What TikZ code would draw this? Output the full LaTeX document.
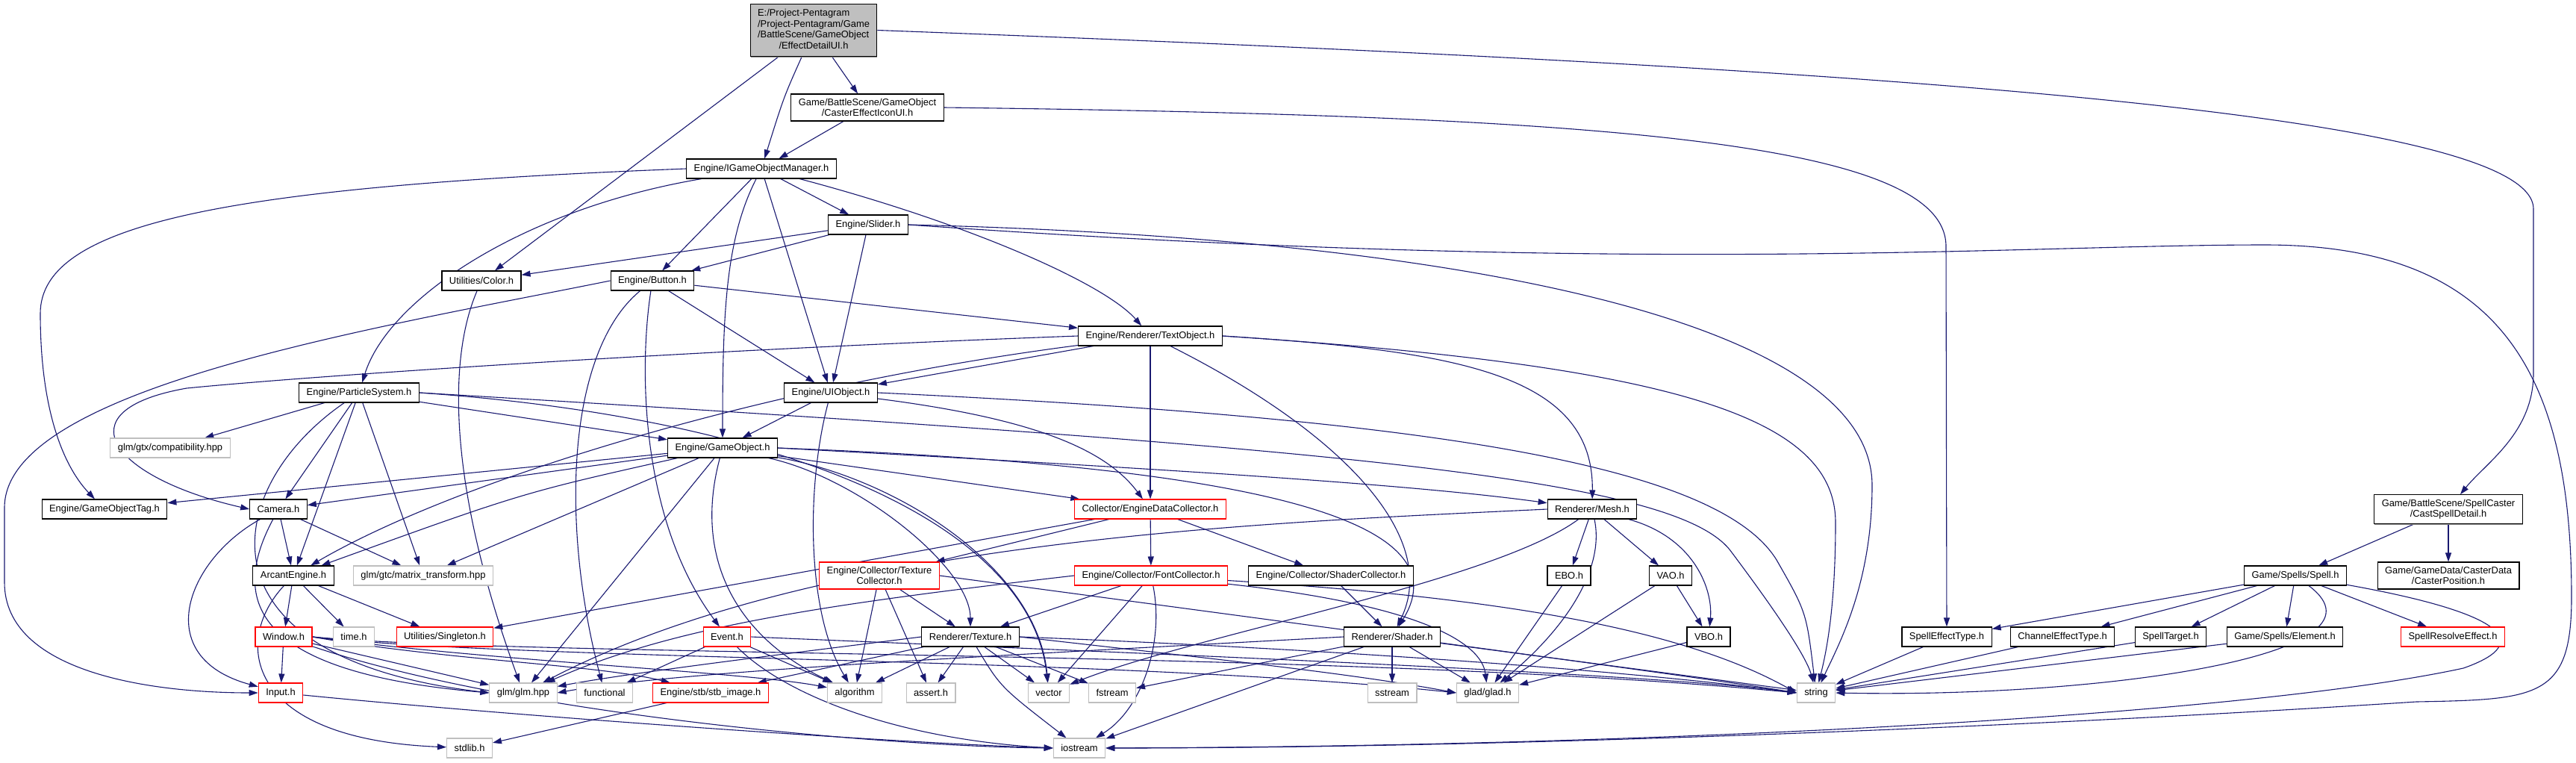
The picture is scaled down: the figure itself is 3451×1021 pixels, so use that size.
\documentclass[tikz,border=0pt]{standalone}
\usepackage{fontspec}
\setmainfont{Liberation Sans}
\usetikzlibrary{arrows.meta, shadows, backgrounds}
\definecolor{edgeblue}{HTML}{191970}
\definecolor{rootgray}{HTML}{BFBFBF}
\tikzstyle{hbox} = [rectangle, fill=white, line width=1.1pt, inner xsep=10pt, inner ysep=6pt, minimum height=26pt, align=center, font=\fontsize{12.9}{14.5}\selectfont]
\tikzstyle{filebox} = [hbox, draw=black, drop shadow={shadow xshift=0.5pt, shadow yshift=-1.4pt, fill=black!45, opacity=1}]
\tikzstyle{rootbox} = [filebox, fill=rootgray]
\tikzstyle{sysbox} = [hbox, draw=rootgray, drop shadow={shadow xshift=0.5pt, shadow yshift=-1.4pt, fill=rootgray!70, opacity=1}]
\tikzstyle{redbox} = [hbox, draw=red, drop shadow={shadow xshift=0.5pt, shadow yshift=-1.4pt, fill=red!50, opacity=1}]
\tikzstyle{incl} = [draw=edgeblue, line width=1.1pt, -{Triangle[length=12pt,width=8pt]}]

\begin{document}
\begin{tikzpicture}[x=1pt, y=-1pt]
\useasboundingbox (0,0) rectangle (3451,1021);

% Nodes
\node (top) [rootbox] at (1090,40.5) {\begin{tabular}{@{}l@{}}E:/Project-Pentagram\\/Project-Pentagram/Game\\/BattleScene/GameObject\\\multicolumn{1}{@{}c@{}}{/EffectDetailUI.h}\end{tabular}};
\node (casterui) [filebox] at (1162,144) {Game/BattleScene/GameObject\\/CasterEffectIconUI.h};
\node (igom) [filebox] at (1020,226) {Engine/IGameObjectManager.h};
\node (slider) [filebox] at (1163,301) {Engine/Slider.h};
\node (color) [filebox] at (645,376) {Utilities/Color.h};
\node (button) [filebox] at (874,376) {Engine/Button.h};
\node (textobj) [filebox] at (1541,450) {Engine/Renderer/TextObject.h};
\node (particle) [filebox] at (481,526) {Engine/ParticleSystem.h};
\node (uiobj) [filebox] at (1113,526) {Engine/UIObject.h};
\node (compat) [sysbox] at (228,600) {glm/gtx/compatibility.hpp};
\node (gameobj) [filebox] at (968,600) {Engine/GameObject.h};
\node (gotag) [filebox] at (140,682) {Engine/GameObjectTag.h};
\node (camera) [filebox] at (373,682) {Camera.h};
\node (edc) [redbox] at (1541,682) {Collector/EngineDataCollector.h};
\node (mesh) [filebox] at (2133,682) {Renderer/Mesh.h};
\node (castspell) [filebox] at (3280,682) {Game/BattleScene/SpellCaster\\/CastSpellDetail.h};
\node (arcant) [filebox] at (393,771) {ArcantEngine.h};
\node (mattrans) [sysbox] at (567,771) {glm/gtc/matrix\_transform.hpp};
\node (texcoll) [redbox] at (1178,771) {Engine/Collector/Texture\\Collector.h};
\node (fontcoll) [redbox] at (1542,771) {Engine/Collector/FontCollector.h};
\node (shadercoll) [filebox] at (1783,771) {Engine/Collector/ShaderCollector.h};
\node (ebo) [filebox] at (2102,771) {EBO.h};
\node (vao) [filebox] at (2238,771) {VAO.h};
\node (spell) [filebox] at (3075,771) {Game/Spells/Spell.h};
\node (casterpos) [filebox] at (3280,771) {Game/GameData/CasterData\\/CasterPosition.h};
\node (window) [redbox] at (380,853) {Window.h};
\node (timeh) [sysbox] at (474,853) {time.h};
\node (singleton) [redbox] at (596,853) {Utilities/Singleton.h};
\node (event) [redbox] at (974,853) {Event.h};
\node (texture) [filebox] at (1300,853) {Renderer/Texture.h};
\node (shader) [filebox] at (1865,853) {Renderer/Shader.h};
\node (vbo) [filebox] at (2289,853) {VBO.h};
\node (spelleff) [filebox] at (2608,853) {SpellEffectType.h};
\node (channel) [filebox] at (2763,853) {ChannelEffectType.h};
\node (target) [filebox] at (2908,853) {SpellTarget.h};
\node (element) [filebox] at (3061,853) {Game/Spells/Element.h};
\node (resolve) [redbox] at (3286,853) {SpellResolveEffect.h};
\node (input) [redbox] at (376,928) {Input.h};
\node (glm) [sysbox] at (701,928) {glm/glm.hpp};
\node (functional) [sysbox] at (810,928) {functional};
\node (stbimage) [redbox] at (952,928) {Engine/stb/stb\_image.h};
\node (algorithm) [sysbox] at (1145,928) {algorithm};
\node (assert) [sysbox] at (1247,928) {assert.h};
\node (vector) [sysbox] at (1405,928) {vector};
\node (fstream) [sysbox] at (1490,928) {fstream};
\node (sstream) [sysbox] at (1865,928) {sstream};
\node (glad) [sysbox] at (1993,928) {glad/glad.h};
\node (string) [sysbox] at (2433,928) {string};
\node (stdlib) [sysbox] at (629,1002) {stdlib.h};
\node (iostream) [sysbox] at (1446,1002) {iostream};

% Arrows
\begin{pgfonlayer}{background}
\draw [incl] (top) .. controls (1050,130) .. (igom);
\draw [incl] (top) -- (casterui);
\draw [incl] (top) -- (color);
\draw [incl] (top.east) .. controls (2500,90) and (3394,150) .. (3394,280) -- (3394,500) .. controls (3394,580) and (3330,620) .. (castspell);
\draw [incl] (casterui) -- (igom);
\draw [incl] (casterui.east) .. controls (2150,155) and (2607,190) .. (2607,330) -- (spelleff);
\draw [incl] (igom.west) .. controls (300,250) and (54,300) .. (54,420) .. controls (54,560) and (90,630) .. (gotag);
\draw [incl] (igom) .. controls (700,280) and (520,400) .. (particle);
\draw [incl] (igom) -- (button);
\draw [incl] (igom) .. controls (972,320) and (968,420) .. (gameobj);
\draw [incl] (igom) -- (uiobj);
\draw [incl] (igom) -- (slider);
\draw [incl] (igom) .. controls (1300,300) and (1480,380) .. (textobj);
\draw [incl] (slider) -- (color);
\draw [incl] (slider) -- (button);
\draw [incl] (slider) -- (uiobj);
\draw [incl] (slider.east) .. controls (2000,320) and (2508,440) .. (2508,650) .. controls (2508,780) and (2465,860) .. (string);
\draw [incl] (slider.east) .. controls (2200,370) and (2700,328) .. (3034,328) .. controls (3350,328) and (3445,500) .. (3445,800) .. controls (3445,935) and (3400,937) .. (3237,940) .. controls (2700,975) and (2000,1002) .. (iostream);
\draw [incl] (color) .. controls (600,480) and (600,650) .. (glm);
\draw [incl] (button.west) .. controls (500,440) and (6,520) .. (6,680) -- (6,780) .. controls (6,900) and (200,928) .. (input);
\draw [incl] (button) .. controls (760,470) and (750,700) .. (functional);
\draw [incl] (button) .. controls (855,500) and (860,700) .. (event);
\draw [incl] (button) -- (uiobj);
\draw [incl] (button) -- (textobj);
\draw [incl] (textobj) -- (uiobj);
\draw [incl] (textobj.west) .. controls (900,470) and (400,505) .. (250,520) .. controls (80,550) and (150,640) .. (camera.west);
\draw [incl] (textobj) .. controls (1000,520) and (600,650) .. (arcant);
\draw [incl] (textobj) -- (edc);
\draw [incl] (textobj) .. controls (1800,580) and (1930,720) .. (shader);
\draw [incl] (textobj.east) .. controls (1950,470) and (2135,500) .. (mesh);
\draw [incl] (textobj.east) .. controls (2250,490) and (2459,560) .. (2459,700) .. controls (2459,820) and (2445,880) .. (string);
\draw [incl] (uiobj) -- (gameobj);
\draw [incl] (uiobj) .. controls (1080,650) and (1080,820) .. (algorithm);
\draw [incl] (uiobj) .. controls (1380,560) and (1480,600) .. (edc);
\draw [incl] (uiobj.east) .. controls (1900,560) and (2300,620) .. (2380,750) .. controls (2420,820) .. (string);
\draw [incl] (particle) -- (compat);
\draw [incl] (particle) .. controls (300,650) and (250,880) .. (glm.west);
\draw [incl] (particle) -- (camera);
\draw [incl] (particle) -- (arcant);
\draw [incl] (particle) -- (mattrans);
\draw [incl] (particle) -- (gameobj);
\draw [incl] (particle.east) .. controls (1050,560) and (1380,700) .. (vector);
\draw [incl] (particle.east) .. controls (1800,600) and (2250,640) .. (2320,740) .. controls (2380,820) and (2420,880) .. (string);
\draw [incl] (gameobj) -- (gotag);
\draw [incl] (gameobj) -- (camera);
\draw [incl] (gameobj) .. controls (700,660) .. (arcant);
\draw [incl] (gameobj) -- (mattrans);
\draw [incl] (gameobj) -- (glm);
\draw [incl] (gameobj) .. controls (925,760) and (1000,860) .. (algorithm);
\draw [incl] (gameobj) .. controls (1200,640) and (1390,760) .. (vector);
\draw [incl] (gameobj) .. controls (1150,640) and (1300,760) .. (texture);
\draw [incl] (gameobj) -- (edc);
\draw [incl] (gameobj.east) .. controls (1600,630) and (1900,650) .. (mesh);
\draw [incl] (gameobj.east) .. controls (1700,625) and (1960,700) .. (shader);
\draw [incl] (camera) -- (arcant);
\draw [incl] (camera) -- (mattrans);
\draw [incl] (camera) .. controls (250,750) and (200,880) .. (input);
\draw [incl] (camera) .. controls (310,800) and (330,900) .. (glm.west);
\draw [incl] (arcant) -- (window);
\draw [incl] (arcant) -- (timeh);
\draw [incl] (arcant) -- (singleton);
\draw [incl] (arcant) .. controls (310,860) and (330,990) .. (stdlib);
\draw [incl] (window) -- (input);
\draw [incl] (window) -- (glm);
\draw [incl] (window.east) .. controls (600,885) and (800,890) .. (stbimage);
\draw [incl] (window.east) .. controls (650,885) and (1000,900) .. (algorithm);
\draw [incl] (window.east) .. controls (700,885) and (1500,880) .. (glad.west);
\draw [incl] (window.east) .. controls (700,880) and (1800,870) .. (string.west);
\draw [incl] (window) .. controls (700,960) and (1200,1000) .. (iostream.west);
\draw [incl] (input) .. controls (700,960) and (1200,995) .. (iostream.west);
\draw [incl] (event) -- (functional);
\draw [incl] (event) -- (algorithm);
\draw [incl] (event) .. controls (1050,930) and (1200,990) .. (iostream.west);
\draw [incl] (event.east) .. controls (1400,870) and (2200,900) .. (string.west);
\draw [incl] (edc) -- (texcoll);
\draw [incl] (edc) -- (fontcoll);
\draw [incl] (edc) -- (shadercoll);
\draw [incl] (edc) -- (singleton);
\draw [incl] (texcoll) -- (texture);
\draw [incl] (texcoll) -- (algorithm);
\draw [incl] (texcoll) -- (assert);
\draw [incl] (texcoll.east) .. controls (1700,830) and (2300,910) .. (string.west);
\draw [incl] (fontcoll) -- (texture);
\draw [incl] (fontcoll) -- (vector);
\draw [incl] (fontcoll) .. controls (1560,860) and (1530,950) .. (iostream);
\draw [incl] (fontcoll) .. controls (1900,810) and (1985,860) .. (glad);
\draw [incl] (fontcoll) .. controls (2000,800) and (2250,840) .. (string.west);
\draw [incl] (fontcoll.west) .. controls (1100,810) and (900,840) .. (glm);
\draw [incl] (shadercoll) -- (shader);
\draw [incl] (texture.west) .. controls (1100,870) and (850,900) .. (glm);
\draw [incl] (texture) -- (stbimage);
\draw [incl] (texture) -- (algorithm);
\draw [incl] (texture) -- (assert);
\draw [incl] (texture) -- (vector);
\draw [incl] (texture) -- (fstream);
\draw [incl] (texture) .. controls (1340,920) .. (iostream);
\draw [incl] (texture.east) .. controls (1600,880) and (1800,900) .. (glad.west);
\draw [incl] (texture.east) .. controls (1800,870) and (2200,900) .. (string.west);
\draw [incl] (shader.west) .. controls (1300,880) and (900,900) .. (glm.east);
\draw [incl] (shader) -- (fstream);
\draw [incl] (shader) -- (iostream);
\draw [incl] (shader) -- (sstream);
\draw [incl] (shader) -- (glad);
\draw [incl] (shader) -- (string);
\draw [incl] (mesh.west) .. controls (1700,700) and (1100,720) .. (glm);
\draw [incl] (mesh) .. controls (2000,780) and (1600,850) .. (vector);
\draw [incl] (mesh) -- (ebo);
\draw [incl] (mesh) -- (vao);
\draw [incl] (mesh) .. controls (2150,760) and (2100,840) .. (glad);
\draw [incl] (mesh) .. controls (2270,720) and (2295,790) .. (vbo);
\draw [incl] (ebo) -- (glad);
\draw [incl] (vao) -- (vbo);
\draw [incl] (vao) -- (glad);
\draw [incl] (vbo) -- (glad);
\draw [incl] (castspell) -- (spell);
\draw [incl] (castspell) -- (casterpos);
\draw [incl] (spell) -- (spelleff);
\draw [incl] (spell) -- (channel);
\draw [incl] (spell) -- (target);
\draw [incl] (spell) -- (element);
\draw [incl] (spell) -- (resolve);
\draw [incl] (spell) .. controls (3220,880) and (2800,935) .. (string.east);
\draw [incl] (spell) .. controls (3350,820) and (3400,860) .. (3300,895) .. controls (3000,960) and (2200,1000) .. (iostream);
\draw [incl] (spelleff) -- (string);
\draw [incl] (channel) -- (string);
\draw [incl] (target) -- (string);
\draw [incl] (element) -- (string);
\draw [incl] (stbimage) -- (stdlib);
\end{pgfonlayer}

\end{tikzpicture}
\end{document}
